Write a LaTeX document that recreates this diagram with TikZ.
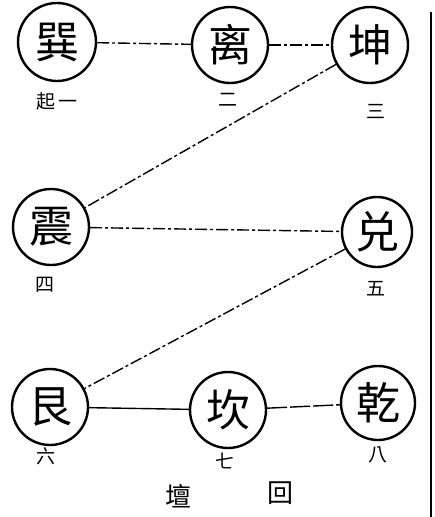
\documentclass[tikz,border=0pt]{standalone}
\usepackage{fontspec}
\newfontfamily\cjk{Noto Sans CJK TC}
\begin{document}
\begin{tikzpicture}[x=1pt,y=-1pt,
  gua/.style={circle,draw,line width=2.4pt,minimum size=#1,inner sep=0pt,font=\cjk\fontsize{44}{44}\selectfont},
  gua/.default=76pt,
  num/.style={font=\cjk\fontsize{19}{19}\selectfont,inner sep=0pt},
  link/.style={line width=1.4pt,dash pattern=on 12pt off 3pt on 3pt off 3pt},
  solidlink/.style={line width=1.4pt}]
\useasboundingbox (0,0) rectangle (434,517);
\node[gua=78pt] (xun) at (57,42) {巽};
\node[gua] (li) at (230,45) {离};
\node[gua] (kun) at (370,45) {坤};
\node[gua] (zhen) at (51,227) {震};
\node[gua=70pt] (dui) at (377,232) {兑};
\node[gua] (gen) at (50,407) {艮};
\node[gua] (kan) at (228,410) {坎};
\node[gua=74pt] (qian) at (378,403) {乾};
\node[num] (l1) at (57,101) {起\,一};
\node[num] (l2) at (228,100) {二};
\node[num] (l3) at (376,112) {三};
\node[num] (l4) at (45,285) {四};
\node[num] (l5) at (376,289) {五};
\node[num] (l6) at (46,456) {六};
\node[num] (l7) at (225,461) {七};
\node[num] (l8) at (378,455) {八};
\node[font=\cjk\fontsize{26}{26}\selectfont] (t1) at (178,496) {壇};
\node[font=\cjk\fontsize{26}{26}\selectfont] (t2) at (280,493) {回};
\coordinate (ra) at (431,12);
\coordinate (rb) at (431,517);
\draw[line width=1.2pt] (ra) -- (rb);
\draw[link] (xun) -- (li);
\draw[link] (li) -- (kun);
\draw[link] (kun) -- (zhen);
\draw[link] (zhen) -- (dui);
\draw[link] (dui) -- (gen);
\draw[solidlink] (gen) -- (kan);
\draw[link,dash pattern=on 20pt off 3pt] (kan) -- (qian);
\end{tikzpicture}
\end{document}
